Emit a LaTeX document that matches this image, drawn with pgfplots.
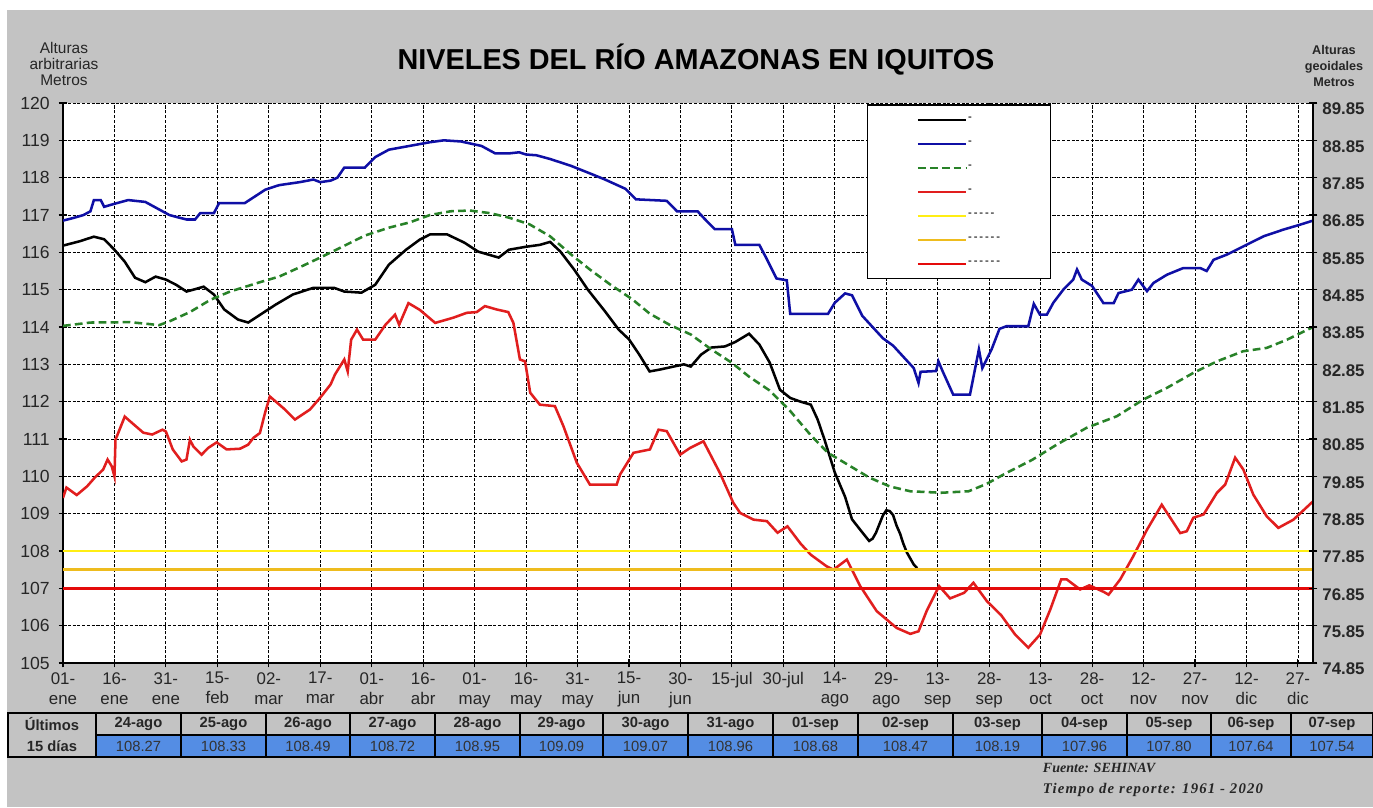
\documentclass[border=0pt]{standalone}
\usepackage{pgfplots}
\pgfplotsset{compat=1.18}
\usepackage{fontspec}
\setmainfont{Liberation Sans}
\newfontfamily\seriff{Liberation Serif}
\definecolor{bggray}{RGB}{195,195,195}
\definecolor{cblue}{RGB}{15,15,165}
\definecolor{cgreen}{RGB}{40,130,40}
\definecolor{cred}{RGB}{225,30,30}
\definecolor{cyellow}{RGB}{255,238,20}
\definecolor{cgold}{RGB}{238,188,30}
\definecolor{cred2}{RGB}{228,10,10}
\definecolor{tblue}{RGB}{84,141,228}
\begin{document}
\begin{tikzpicture}
\begin{scope}[x=0.25mm,y=-0.25mm]
\fill[white] (0,0) rectangle (1373,807);
\fill[bggray] (7,10) rectangle (1373,807);
\node[font=\fontsize{20.5}{24}\selectfont\bfseries] at (696,60) {NIVELES DEL RÍO AMAZONAS EN IQUITOS};
\node[align=center, font=\fontsize{11}{11.4}\selectfont, text=black!85] at (64,64) {Alturas\\arbitrarias\\Metros};
\node[align=center, font=\fontsize{9}{11.4}\selectfont\bfseries, text=black!85] at (1334,66) {Alturas\\geoidales\\Metros};
\end{scope}

\begin{axis}[
  at={(15.75mm,-165.75mm)}, anchor=south west,
  scale only axis, width=312.5mm, height=140mm,
  xmin=0, xmax=364.4, ymin=105, ymax=120,
  axis background/.style={fill=white},
  axis x line*=bottom, axis y line*=left,
  axis line style={-, black, line width=1pt},
  xtick={0,15,...,360},
  xticklabels={{01-\\ene},{16-\\ene},{31-\\ene},{15-\\feb},{02-\\mar},{17-\\mar},{01-\\abr},{16-\\abr},{01-\\may},{16-\\may},{31-\\may},{15-\\jun},{30-\\jun},{15-jul},{30-jul},{14-\\ago},{29-\\ago},{13-\\sep},{28-\\sep},{13-\\oct},{28-\\oct},{12-\\nov},{27-\\nov},{12-\\dic},{27-\\dic}},
  ytick={105,106,...,120},
  tick align=center, major tick length=2.2mm,
  every tick/.style={black, line width=0.8pt},
  grid=major, major grid style={black, line width=0.6pt, dash pattern=on 2.2pt off 1.2pt},
  /pgf/number format/assume math mode=true,
  xticklabel style={align=center, font=\fontsize{12}{14.2}\selectfont, text=black!85},
  yticklabel style={font=\fontsize{12.5}{14}\selectfont, text=black!85, xshift=-1mm},
  legend style={at={(0.6432,0.998)}, anchor=north west, draw=black, line width=1pt, fill=white,
    minimum width=45.75mm, minimum height=42mm, font=\fontsize{8}{9}\selectfont\bfseries, text=black!75, row sep=0pt,
    nodes={minimum width=0pt, minimum height=6mm, inner sep=1pt}},
  legend image code/.code={\draw[#1, line width=1.3pt] (0mm,0mm) -- (12mm,0mm);},
  legend cell align=left,
]
% black: current year
\addplot[draw=black, line width=1.8pt] coordinates {
(0,116.18) (5,116.3) (9,116.42) (12,116.35) (15,116.07) (18,115.75) (21,115.32) (24,115.2) (27,115.35) (30,115.27) (33,115.13) (36,114.95) (38,115.0) (41,115.08) (44,114.87) (47,114.47) (51,114.2) (54,114.12) (57,114.3) (62,114.6) (67,114.87) (73,115.05) (79,115.05) (82,114.95) (87,114.92) (91,115.13) (95,115.67) (100,116.07) (104,116.34) (107,116.48) (112,116.48) (117,116.26) (121,116.02) (127,115.86) (130,116.07) (135,116.15) (139,116.2) (142,116.28) (145,116.02) (149,115.54) (153,115.0) (158,114.42) (162,113.93) (165,113.67) (168,113.26) (171,112.81) (174,112.86) (178,112.94) (181,113.0) (183,112.94) (186,113.26) (189,113.45) (193,113.48) (196,113.6) (200,113.82) (203,113.53) (206,113.05) (209,112.32) (212,112.1) (215,112.0) (218,111.92) (220,111.52) (222,110.98) (225,110.1) (228,109.45) (230,108.85) (233,108.5) (235,108.27) (236,108.33) (237,108.49) (238,108.72) (239,108.95) (240,109.09) (241,109.07) (242,108.96) (243,108.68) (244,108.47) (245,108.19) (246,107.96) (247,107.80) (248,107.64) (249,107.54)
};
\addlegendentry{-}
% blue: max
\addplot[draw=cblue, line width=1.8pt] coordinates {
(0,116.85) (3,116.92) (6,117.0) (8,117.1) (9,117.4) (11,117.4) (12,117.22) (15,117.3) (19,117.4) (24,117.35) (28,117.15) (31,117.0) (33,116.95) (36,116.88) (38.5,116.88) (40,117.05) (44,117.05) (45.5,117.32) (53,117.32) (56,117.5) (59,117.68) (63,117.8) (69,117.88) (73,117.95) (75,117.88) (78,117.92) (80,118.0) (82,118.27) (88,118.27) (91,118.55) (95,118.75) (101,118.85) (107,118.95) (111,119.0) (116,118.97) (122,118.85) (126,118.65) (130,118.65) (133,118.68) (135,118.62) (138,118.6) (142,118.5) (148,118.32) (154,118.1) (158,117.95) (164,117.7) (167,117.42) (176,117.38) (179,117.1) (185,117.1) (187,116.9) (190,116.62) (195,116.62) (196,116.2) (203,116.2) (205,115.85) (208,115.3) (211,115.25) (212,114.35) (223,114.35) (225,114.65) (228,114.9) (230,114.85) (233,114.3) (236,114.0) (239,113.7) (242,113.5) (245,113.2) (248,112.9) (249.4,112.5) (250,112.8) (254.5,112.82) (255.2,113.08) (256.5,112.8) (259.5,112.19) (264.4,112.19) (267,113.4) (268,112.9) (270.7,113.4) (273,113.95) (275,114.02) (281.4,114.02) (283,114.62) (284.8,114.33) (286.8,114.33) (288.7,114.65) (291.6,115.0) (294.5,115.27) (295.6,115.54) (297,115.27) (300,115.1) (303.3,114.64) (306.3,114.64) (307.7,114.91) (311.6,115.0) (313.5,115.27) (316,114.96) (317.9,115.18) (321.8,115.4) (326.6,115.58) (331.5,115.58) (333.4,115.5) (335.4,115.8) (339.3,115.94) (344.1,116.16) (350,116.43) (355.8,116.61) (360.6,116.74) (364.4,116.85)
};
\addlegendentry{-}
% green dashed: mean
\addplot[draw=cgreen, line width=1.8pt, dash pattern=on 5.5pt off 3pt] coordinates {
(0,114.03) (8,114.12) (19.5,114.13) (25,114.08) (28,114.05) (31,114.15) (37,114.4) (43,114.73) (48.7,114.95) (57.4,115.2) (63,115.35) (69,115.6) (75,115.86) (81,116.13) (88,116.45) (95,116.66) (101,116.8) (107,117.0) (113,117.1) (118.6,117.12) (124.5,117.05) (130,116.93) (136,116.75) (142,116.43) (148,115.95) (153.6,115.54) (159.5,115.14) (166,114.74) (171,114.36) (177,114.05) (183,113.8) (189,113.4) (195,113.04) (200,112.67) (206,112.3) (212,111.75) (218,111.1) (223,110.63) (229,110.3) (235,109.97) (241,109.73) (247,109.6) (256,109.56) (264,109.6) (269.3,109.8) (275,110.09) (282.5,110.44) (289.7,110.85) (298.4,111.3) (307.2,111.61) (315,112.06) (321.8,112.37) (329.5,112.77) (336.4,113.08) (344,113.35) (350.9,113.44) (356.8,113.66) (364.4,114.0)
};
\addlegendentry{-}
% red: min
\addplot[draw=cred, line width=1.8pt] coordinates {
(0,109.42) (1,109.7) (4,109.5) (7,109.73) (9.3,109.97) (11.7,110.18) (13,110.45) (14.2,110.27) (15,110.0) (15.3,110.98) (18,111.6) (20.5,111.4) (23.4,111.17) (26,111.12) (29,111.25) (30,111.2) (32,110.72) (34.6,110.4) (36,110.45) (37,110.98) (38,110.8) (40.4,110.58) (42.3,110.76) (44.8,110.91) (47.7,110.72) (51.6,110.74) (54,110.85) (55.5,111.03) (57.4,111.16) (58.9,111.7) (60.3,112.14) (64.7,111.79) (67.6,111.52) (72,111.79) (75,112.11) (78,112.46) (79.3,112.73) (82,113.13) (83,112.81) (84,113.66) (85.7,113.93) (87.5,113.66) (91,113.66) (94,114.06) (96.8,114.33) (98,114.06) (100.7,114.64) (104,114.46) (108.5,114.11) (113.8,114.25) (117.7,114.38) (120.6,114.4) (123,114.56) (126.4,114.47) (129.8,114.4) (131.3,114.11) (133.2,113.13) (134.7,113.08) (136.2,112.24) (139,111.92) (143.4,111.88) (145.9,111.34) (149.8,110.36) (153.6,109.78) (161.4,109.78) (162.4,110.05) (166.3,110.63) (171.1,110.72) (173.6,111.25) (176,111.21) (179.9,110.58) (182.8,110.76) (186.7,110.94) (191.5,110.09) (195.4,109.29) (197.4,109.02) (201.3,108.84) (205.2,108.8) (208.3,108.49) (211.2,108.66) (215,108.2) (218,107.9) (222.6,107.59) (224.6,107.5) (228.5,107.77) (232.4,107.06) (237.2,106.39) (243,105.94) (247,105.78) (249.4,105.85) (251.8,106.4) (255.4,107.06) (258.6,106.73) (262.7,106.88) (265.4,107.15) (269.3,106.66) (273.5,106.28) (277.5,105.77) (281.4,105.41) (284.8,105.76) (287.8,106.43) (291,107.24) (292.6,107.24) (296.5,106.97) (299.2,107.08) (303.5,106.9) (304.8,106.83) (308.2,107.24) (312,107.86) (316,108.57) (320.3,109.24) (325.7,108.48) (327.6,108.53) (329.5,108.89) (332.5,108.98) (336.4,109.56) (338.8,109.78) (341.7,110.5) (344.1,110.18) (347,109.51) (350.9,108.93) (354.3,108.62) (358.7,108.84) (364.4,109.33)
};
\addlegendentry{-}
\addplot[draw=cyellow, line width=1.8pt] coordinates {(0,108) (364.4,108)};
\addlegendentry{-\,-\,-\,-\,-}
\addplot[draw=cgold, line width=1.8pt] coordinates {(0,107.5) (364.4,107.5)};
\addlegendentry{-\,-\,-\,-\,-\,-}
\addplot[draw=cred2, line width=1.8pt] coordinates {(0,107) (364.4,107)};
\addlegendentry{-\,-\,-\,-\,-\,-}
\end{axis}

\begin{axis}[
  at={(15.75mm,-165.75mm)}, anchor=south west,
  scale only axis, width=312.5mm, height=140mm,
  xmin=0, xmax=364.4, ymin=105, ymax=120,
  hide x axis, axis y line*=right,
  axis line style={-, black, line width=1pt},
  ytick={105,106,...,120},
  yticklabels={74.85,75.85,76.85,77.85,78.85,79.85,80.85,81.85,82.85,83.85,84.85,85.85,86.85,87.85,88.85,89.85},
  tick align=center, major tick length=2.2mm,
  every tick/.style={black, line width=0.8pt},
  yticklabel style={font=\fontsize{12}{14}\selectfont\bfseries, text=black!85, yshift=-1.5mm},
]
\addplot[draw=none, forget plot] coordinates {(0,105)};
\end{axis}

\begin{scope}[x=0.25mm,y=-0.25mm]
\foreach \l/\r/\h/\v in {96/181/24-ago/108.27, 181/266/25-ago/108.33, 266/350/26-ago/108.49, 350/435/27-ago/108.72, 435/520/28-ago/108.95, 520/603/29-ago/109.09, 603/688/30-ago/109.07, 688/773/31-ago/108.96, 773/858/01-sep/108.68, 858/953/02-sep/108.47, 953/1042/03-sep/108.19, 1042/1127/04-sep/107.96, 1127/1211/05-sep/107.80, 1211/1291/06-sep/107.64, 1291/1373/07-sep/107.54} {
  \fill[tblue] (\l,735) rectangle (\r,757);
  \draw[black, line width=0.9pt] (\l,713) rectangle (\r,757);
  \draw[black, line width=0.9pt] (\l,735) -- (\r,735);
  \node[font=\fontsize{10.5}{12}\selectfont\bfseries, text=black!85] at ({(\l+\r)/2},724) {\h};
  \node[font=\fontsize{10.5}{12}\selectfont, text=black!80] at ({(\l+\r)/2},746.5) {\v};
}
\draw[black, line width=0.9pt] (8,713) rectangle (96,757);
\node[font=\fontsize{10.5}{12}\selectfont\bfseries, text=black!85] at (52,724) {Últimos};
\node[font=\fontsize{10.5}{12}\selectfont\bfseries, text=black!85] at (52,746.5) {15 días};
\node[anchor=west, font=\fontsize{10}{12}\seriff\bfseries\itshape, text=black!85] at (1038,768) {Fuente: SEHINAV};
\node[anchor=west, font=\fontsize{10.5}{12}\seriff\bfseries\itshape\addfontfeature{LetterSpace=8}, text=black!85] at (1038,790) {Tiempo de reporte: 1961 - 2020};
\end{scope}
\pgfresetboundingbox
\path[use as bounding box] (0,0) rectangle (343.25mm,-201.75mm);
\end{tikzpicture}
\end{document}
